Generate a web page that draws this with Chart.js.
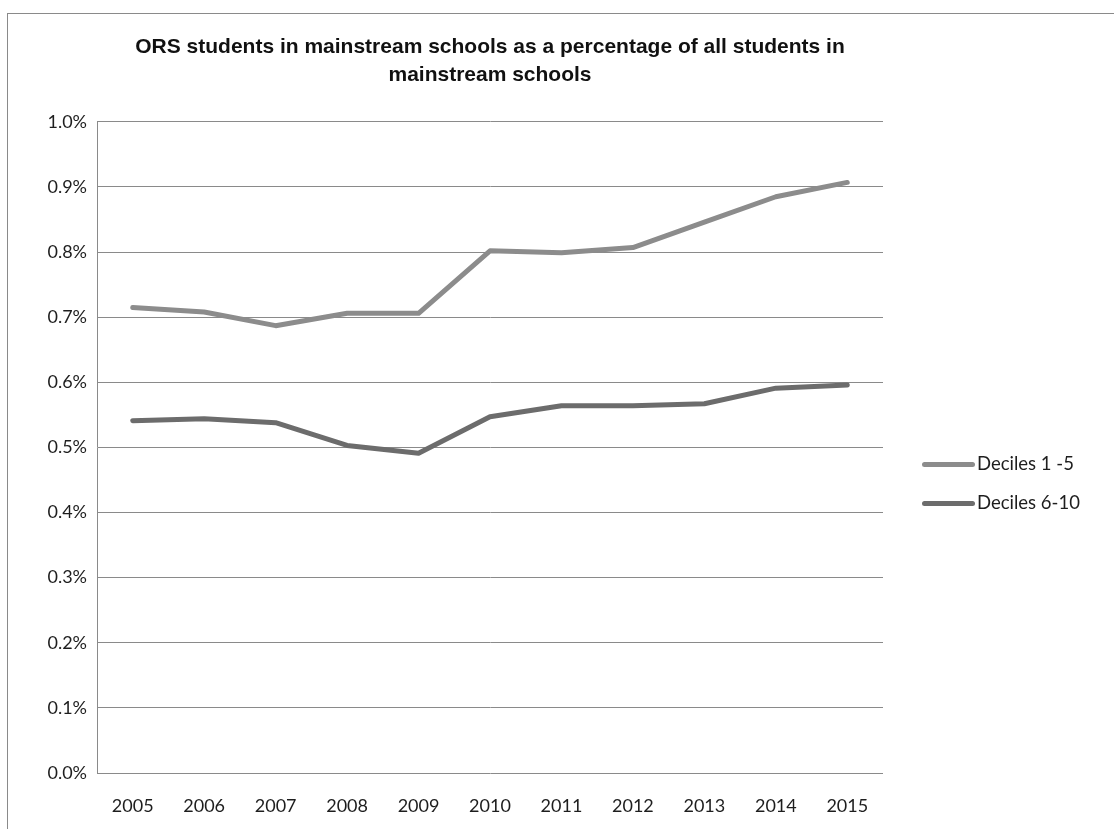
<!DOCTYPE html>
<html>
<head>
<meta charset="utf-8">
<script src="https://cdn.jsdelivr.net/npm/chart.js@4.4.0/dist/chart.umd.min.js"></script>
<style>
    html, body { margin: 0; padding: 0; background: #fff; }
    #wrap { position: relative; width: 1114px; height: 829px; overflow: hidden; }
    #frame { position: absolute; left: 7px; top: 13px; right: -2px; bottom: -2px; border-top: 1px solid #8a8a8a; border-left: 1px solid #8a8a8a; }
    #grafico { position: absolute; left: 0; top: 0; }
    .custom-legend { position: absolute; left: 922px; top: 450px; margin: 0; padding: 0; list-style: none; font-family: Lato, "Open Sans", sans-serif; font-size: 18.5px; color: #1e1e1e; }
    .custom-legend li { height: 39px; line-height: 26px; white-space: nowrap; }
    .legend-color { display: inline-block; width: 53px; height: 5px; border-radius: 3px; vertical-align: middle; margin-right: 2px; position: relative; top: -1px; }
</style>
</head>
<body>
<div id="wrap">
    <div id="frame"></div>
    <canvas id="grafico" width="1114" height="829"></canvas>
    <ul class="custom-legend"></ul>
</div>
<script>
const anos = ['2005', '2006', '2007', '2008', '2009', '2010', '2011', '2012', '2013', '2014', '2015'];
const decis1a5 = [0.715, 0.708, 0.687, 0.706, 0.706, 0.802, 0.799, 0.807, 0.846, 0.885, 0.907];
const decis6a10 = [0.541, 0.544, 0.538, 0.503, 0.491, 0.547, 0.564, 0.564, 0.567, 0.591, 0.596];
const nomesSeries = ['Deciles 1 -5', 'Deciles 6-10'];
const coresSeries = ['#8c8c8c', '#6c6c6c'];
const titulo = ['ORS students in mainstream schools as a percentage of all students in', 'mainstream schools'];

document.addEventListener('DOMContentLoaded', function() {
    const canvas = document.getElementById('grafico');
    const ctx = canvas.getContext('2d');

    const data = {
        labels: anos,
        datasets: [
            { label: nomesSeries[0], data: decis1a5, borderColor: coresSeries[0] },
            { label: nomesSeries[1], data: decis6a10, borderColor: coresSeries[1] }
        ].map(ds => Object.assign(ds, {
            borderWidth: 5,
            tension: 0,
            pointRadius: 0,
            borderCapStyle: 'round',
            borderJoinStyle: 'round',
            fill: false
        }))
    };

    const options = {
        responsive: false,
        animation: false,
        devicePixelRatio: 1,
        layout: { padding: { left: 0, right: 231, top: 0, bottom: 14 } },
        plugins: {
            legend: { display: false },
            tooltip: { enabled: false },
            title: {
                display: true,
                text: titulo,
                fullSize: false,
                color: '#111',
                font: { family: '"Liberation Sans", Arial, sans-serif', size: 21, weight: 'bold', lineHeight: 1.33 },
                padding: { top: 33, bottom: 33 }
            }
        },
        scales: {
            x: {
                offset: true,
                grid: { display: false, drawTicks: false },
                border: { display: false },
                ticks: { color: '#1e1e1e', font: { family: 'Lato, "Open Sans", sans-serif', size: 18 }, padding: 22, maxRotation: 0 },
                afterFit: function(scale) { scale.height = 42; }
            },
            y: {
                min: 0,
                max: 1,
                ticks: {
                    stepSize: 0.1,
                    color: '#1e1e1e',
                    font: { family: 'Lato, "Open Sans", sans-serif', size: 18 },
                    padding: 10,
                    callback: v => v.toFixed(1) + '%'
                },
                grid: { color: '#8a8a8a', lineWidth: 1, drawTicks: false },
                border: { display: true, color: '#8a8a8a', width: 1 },
                afterFit: function(scale) { scale.width = 97; }
            }
        }
    };

    new Chart(ctx, { type: 'line', data: data, options: options });

    // Legenda montada em HTML ao lado do gráfico
    const legendContainer = document.querySelector('.custom-legend');
    if (legendContainer) {
        legendContainer.innerHTML = createLegendHTML(nomesSeries, coresSeries);
    }
});

function createLegendHTML(labels, colors) {
    let legendHTML = '';
    for (let i = 0; i < labels.length; i++) {
        legendHTML += `<li><span class="legend-color" style="background-color: ${colors[i]}"></span>${labels[i]}</li>`;
    }
    return legendHTML;
}
</script>
</body>
</html>
